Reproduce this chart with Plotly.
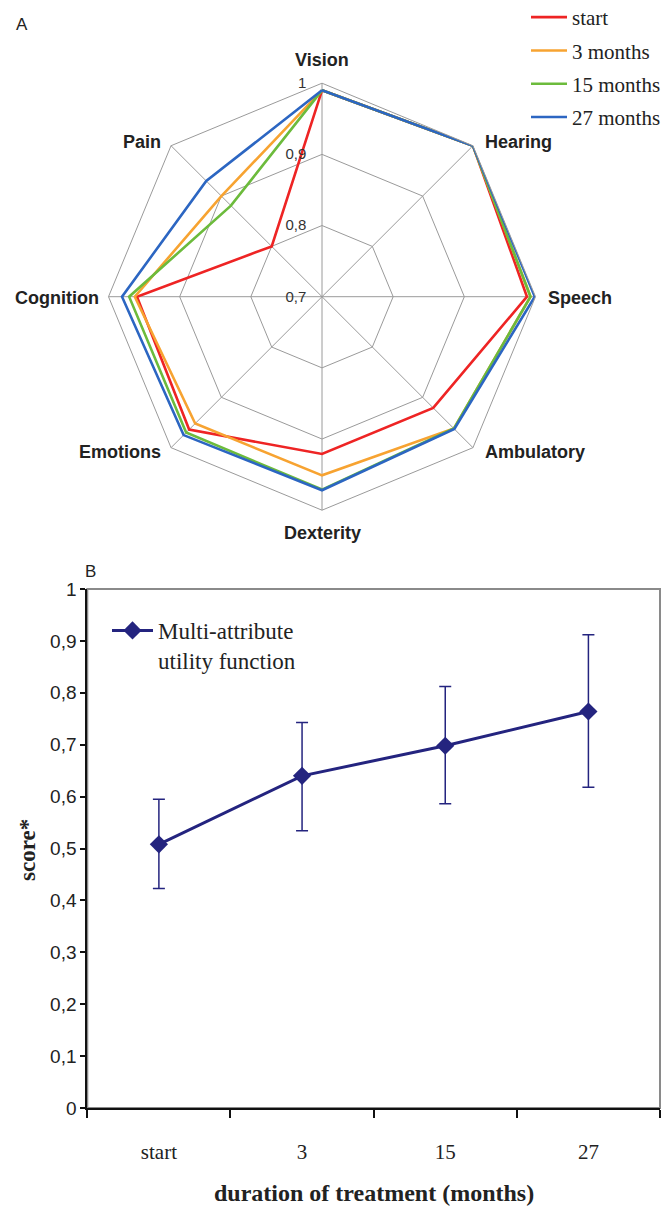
import math
import plotly.graph_objects as go

# ---- Panel A: attribute scores per visit (radar) ----
attributes = ["Vision", "Hearing", "Speech", "Ambulatory",
              "Dexterity", "Emotions", "Cognition", "Pain"]
visits = ["start", "3 months", "15 months", "27 months"]
score_start = [0.990, 1.000, 0.988, 0.921, 0.921, 0.964, 0.960, 0.800]
score_3m = [0.990, 1.000, 0.993, 0.962, 0.951, 0.952, 0.963, 0.900]
score_15m = [0.990, 1.000, 0.993, 0.962, 0.971, 0.970, 0.971, 0.881]
score_27m = [0.990, 1.000, 0.999, 0.963, 0.972, 0.975, 0.981, 0.930]
visit_colors = ["#ee2424", "#f7a331", "#6cbb3c", "#2c66c2"]

# ---- Panel B: multi-attribute utility function over time ----
months = ["start", "3", "15", "27"]
mauf_mean = [0.508, 0.640, 0.698, 0.764]
mauf_upper = [0.595, 0.743, 0.812, 0.912]
mauf_lower = [0.423, 0.534, 0.586, 0.618]

W, H = 667, 1209
SERIF = "Liberation Serif"
SANS = "Liberation Sans"
NAVY = "#24247f"
CLEAR = "rgba(0,0,0,0)"

fig = go.Figure()

for name, vals, col in zip(visits, [score_start, score_3m, score_15m, score_27m], visit_colors):
    fig.add_trace(go.Scatterpolar(
        r=vals + vals[:1], theta=attributes + attributes[:1],
        mode="lines", name=name, line=dict(color=col, width=2.6),
        legendgroup=name, legend="legend", subplot="polar",
    ))

err_plus = [u - m for u, m in zip(mauf_upper, mauf_mean)]
err_minus = [m - l for m, l in zip(mauf_mean, mauf_lower)]
fig.add_trace(go.Scatter(
    x=months, y=mauf_mean, mode="lines+markers",
    name="Multi-attribute<br>utility function",
    line=dict(color=NAVY, width=3),
    marker=dict(symbol="diamond", size=14, color=NAVY),
    error_y=dict(type="data", symmetric=False, array=err_plus, arrayminus=err_minus,
                 color=NAVY, thickness=1.5, width=6),
    legend="legend2", xaxis="x", yaxis="y",
))


def label(text, x, y, size, angle=0, bold=False, family=SANS, xanchor="center"):
    return dict(text=text, x=x / W, y=1 - y / H, xref="paper", yref="paper",
                xanchor=xanchor, yanchor="middle", showarrow=False, textangle=angle,
                font=dict(family=family, size=size, color="#222",
                          weight="bold" if bold else "normal"))


cx, cy, R = 322, 296.7, 213.5

# attribute names placed just outside each corner of the outer octagon
spoke_labels = []
for i, name in enumerate(attributes):
    a = math.radians(45 * i)
    vx, vy = cx + R * math.sin(a), cy - R * math.cos(a)
    s, c = round(math.sin(a), 3), round(math.cos(a), 3)
    if s > 0:
        x, anchor = vx + 10, "left"
    elif s < 0:
        x, anchor = vx - 8, "right"
    else:
        x, anchor = vx, "center"
    if s == 0:
        y = vy - 23 * c
    else:
        y = vy - 4 * (1 if c > 0 else -1 if c < 0 else -0.25)
    spoke_labels.append(label(name, x, y, 18, bold=True, xanchor=anchor))

fig.update_layout(
    width=W, height=H, margin=dict(l=0, r=0, t=0, b=0, autoexpand=False),
    paper_bgcolor="white", plot_bgcolor="white",
    separators=", ",
    font=dict(family=SANS, color="#222"),
    polar=dict(
        domain=dict(x=[(cx - R) / W, (cx + R) / W],
                    y=[(H - cy - R) / H, (H - cy + R) / H]),
        gridshape="linear", bgcolor="white",
        angularaxis=dict(direction="clockwise", rotation=90, ticks="",
                         showticklabels=False,
                         showline=True, linecolor="#9a9a9a", linewidth=1,
                         gridcolor="#9a9a9a", gridwidth=1),
        radialaxis=dict(range=[0.7, 1.0], dtick=0.1, angle=90, tickangle=90,
                        side="counterclockwise", showline=False,
                        ticks="outside", ticklen=10, tickcolor=CLEAR,
                        gridcolor="#9a9a9a", gridwidth=1,
                        tickfont=dict(family=SANS, size=15, color="#333")),
    ),
    xaxis=dict(domain=[87.3 / W, 660 / W], type="category", range=[-0.5, 3.5],
               tickson="boundaries", ticks="outside", ticklen=8, tickwidth=1.5,
               tickcolor="#111", showline=True, linecolor="#111", linewidth=2,
               showgrid=False, zeroline=False, ticklabelstandoff=24, automargin=False,
               tickfont=dict(family=SERIF, size=21, color="#222")),
    yaxis=dict(domain=[(H - 1108) / H, (H - 589) / H], range=[0, 1], dtick=0.1,
               ticks="outside", ticklen=5, tickwidth=1.5, tickcolor="#111",
               showline=True, linecolor="#111", linewidth=2, automargin=False,
               showgrid=False, zeroline=False,
               tickfont=dict(family=SANS, size=19, color="#222")),
    legend=dict(x=526 / W, y=1 + 3 / H, xanchor="left", yanchor="top",
                bgcolor=CLEAR, tracegroupgap=3, itemwidth=36,
                font=dict(family=SERIF, size=21, color="#222")),
    legend2=dict(x=107 / W, y=1 - 609 / H, xanchor="left", yanchor="top",
                 bgcolor=CLEAR, valign="top", itemwidth=41,
                 font=dict(family=SERIF, size=23, color="#222")),
    shapes=[dict(type="rect", xref="x domain", yref="y domain", x0=0, x1=1, y0=0, y1=1,
                 line=dict(color="#8a8a8a", width=2), layer="below")],
    annotations=spoke_labels + [
        label("A", 22, 25, 17),
        label("B", 91, 571, 17),
        label("score*", 27, 850, 23, angle=-90, bold=True, family=SERIF),
        label("duration of treatment (months)", 374, 1193, 24, bold=True, family=SERIF),
    ],
)

fig.write_html("out.html")
